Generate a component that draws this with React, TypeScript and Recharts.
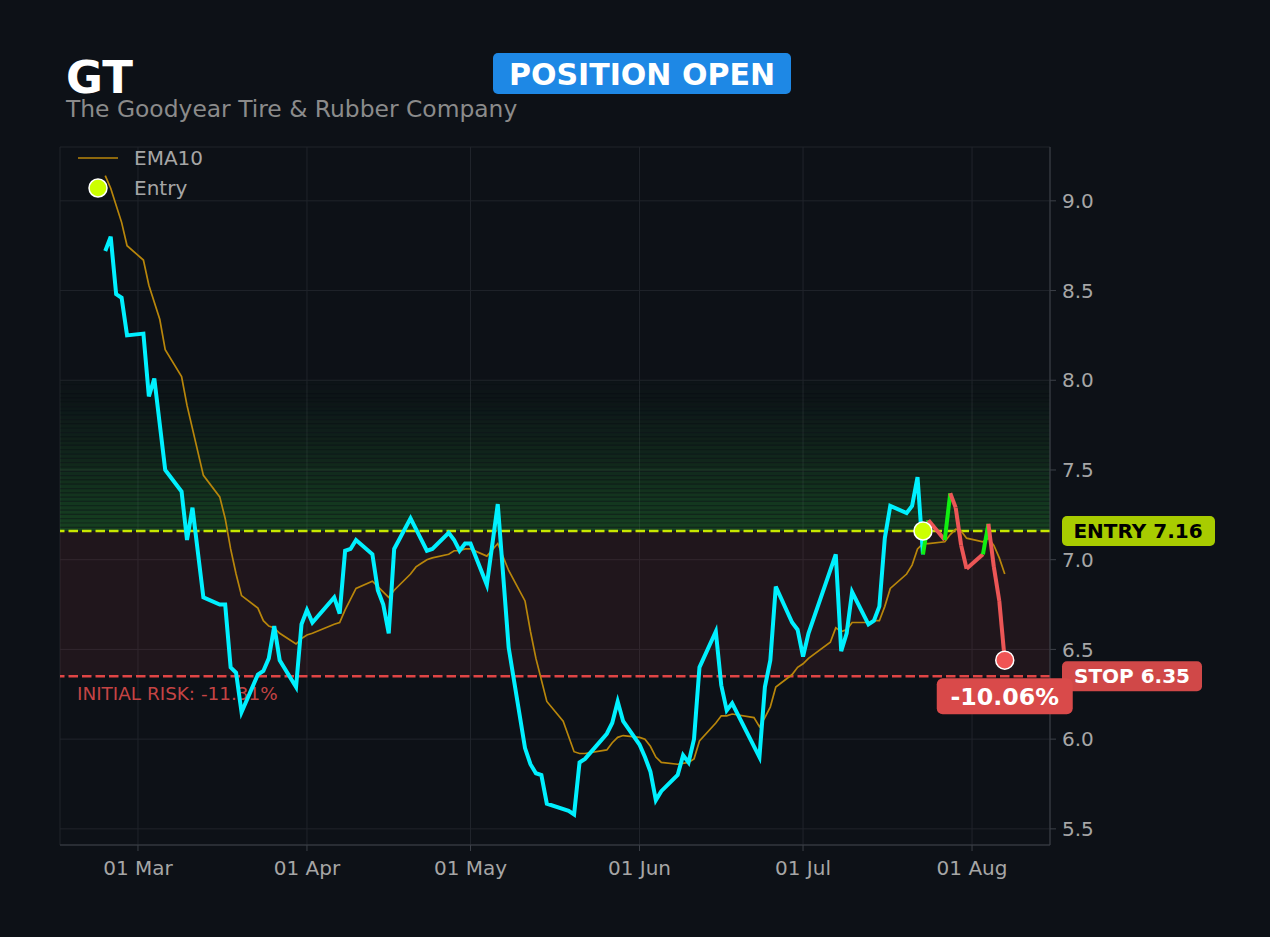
import {
  ComposedChart,
  Line,
  XAxis,
  YAxis,
  CartesianGrid,
  ReferenceArea,
  ReferenceLine,
  ReferenceDot,
} from "recharts"

// trading days shown on the chart
const dates = [
  "2026-02-23", "2026-02-24", "2026-02-25", "2026-02-26", "2026-02-27",
  "2026-03-02", "2026-03-03", "2026-03-04", "2026-03-05", "2026-03-06",
  "2026-03-09", "2026-03-10", "2026-03-11", "2026-03-12", "2026-03-13",
  "2026-03-16", "2026-03-17", "2026-03-18", "2026-03-19", "2026-03-20",
  "2026-03-23", "2026-03-24", "2026-03-25", "2026-03-26", "2026-03-27",
  "2026-03-30", "2026-03-31", "2026-04-01", "2026-04-02",
  "2026-04-06", "2026-04-07", "2026-04-08", "2026-04-09", "2026-04-10",
  "2026-04-13", "2026-04-14", "2026-04-15", "2026-04-16", "2026-04-17",
  "2026-04-20", "2026-04-21", "2026-04-22", "2026-04-23", "2026-04-24",
  "2026-04-27", "2026-04-28", "2026-04-29", "2026-04-30", "2026-05-01",
  "2026-05-04", "2026-05-05", "2026-05-06", "2026-05-07", "2026-05-08",
  "2026-05-11", "2026-05-12", "2026-05-13", "2026-05-14", "2026-05-15",
  "2026-05-18", "2026-05-19", "2026-05-20", "2026-05-21", "2026-05-22",
  "2026-05-26", "2026-05-27", "2026-05-28", "2026-05-29",
  "2026-06-01", "2026-06-02", "2026-06-03", "2026-06-04", "2026-06-05",
  "2026-06-08", "2026-06-09", "2026-06-10", "2026-06-11", "2026-06-12",
  "2026-06-15", "2026-06-16", "2026-06-17", "2026-06-18",
  "2026-06-22", "2026-06-23", "2026-06-24", "2026-06-25", "2026-06-26",
  "2026-06-29", "2026-06-30", "2026-07-01", "2026-07-02",
  "2026-07-06", "2026-07-07", "2026-07-08", "2026-07-09", "2026-07-10",
  "2026-07-13", "2026-07-14", "2026-07-15", "2026-07-16", "2026-07-17",
  "2026-07-20", "2026-07-21", "2026-07-22", "2026-07-23", "2026-07-24",
  "2026-07-27", "2026-07-28", "2026-07-29", "2026-07-30", "2026-07-31",
  "2026-08-03", "2026-08-04", "2026-08-05", "2026-08-06", "2026-08-07",
]

const closes = [
  8.72, 8.80, 8.48, 8.46, 8.25,
  8.26, 7.91, 8.01, null, 7.50,
  7.38, 7.11, 7.29, null, 6.79,
  6.75, 6.75, 6.40, 6.37, 6.15,
  6.36, 6.38, 6.45, 6.63, 6.44,
  6.29, 6.64, 6.72, 6.65,
  6.79, 6.70, 7.05, 7.06, 7.11,
  7.03, 6.83, 6.75, 6.59, 7.06,
  7.23, null, 7.11, 7.05, 7.06,
  7.15, 7.11, 7.05, 7.09, 7.09,
  6.86, null, 7.31, null, 6.51,
  5.95, 5.86, 5.81, 5.80, 5.64,
  null, 5.60, 5.58, 5.87, 5.89,
  6.03, 6.09, 6.21, 6.10,
  5.97, 5.90, 5.82, 5.66, 5.71,
  5.80, 5.91, 5.87, 6.00, 6.40,
  6.60, 6.30, 6.16, 6.20,
  null, 5.90, 6.29, 6.44, 6.85,
  6.65, 6.61, 6.46, 6.59,
  null, 7.03, 6.49, 6.59, 6.82,
  6.64, 6.66, 6.74, 7.12, 7.30,
  7.26, 7.30, 7.46, 7.03, 7.22,
  7.11, 7.37, 7.29, 7.08, 6.95,
  7.03, 7.20, 6.96, 6.77, 6.44,
]

const ema10 = [
  9.14, 9.07, null, 8.88, 8.75,
  8.67, 8.53, null, 8.34, 8.17,
  8.02, 7.86, null, null, 7.47,
  7.35, 7.23, 7.06, 6.92, 6.80,
  6.73, 6.66, 6.63, 6.62, 6.59,
  6.53, 6.56, 6.58, 6.59,
  6.64, 6.65, 6.72, 6.78, 6.84,
  6.88, 6.85, null, 6.79, 6.83,
  6.92, 6.96, 6.98, 7.00, 7.01,
  7.03, 7.05, 7.05, 7.06, 7.06,
  7.02, null, 7.09, null, 6.94,
  6.77, 6.60, 6.45, null, 6.21,
  6.10, null, 5.93, 5.92, 5.92,
  5.94, 5.98, 6.01, 6.02,
  6.01, 6.00, 5.96, 5.90, 5.87,
  5.86, null, 5.87, 5.89, 5.99,
  6.09, 6.13, 6.13, 6.14,
  6.12, 6.07, 6.12, 6.18, 6.29,
  6.36, 6.40, 6.42, 6.45,
  6.54, 6.62, 6.60, 6.61, 6.65,
  6.65, 6.66, 6.66, 6.74, 6.84,
  6.92, 6.97, 7.06, 7.09, 7.09,
  7.10, 7.14, 7.17, 7.16, 7.12,
  7.10, 7.12, 7.08, 7.01, 6.92,
]

// colour of each daily segment after the entry
const moves = ["up", "down", "up", "down", "down", "down", "down", "up", "down", "down", "down"]

const ticker = "GT"
const company = "The Goodyear Tire & Rubber Company"
const status = "POSITION OPEN"
const entryDate = "2026-07-23"
const entryPrice = 7.16
const stopPrice = 6.35
const zoneTop = 8.0

const yTicks = [5.5, 6.0, 6.5, 7.0, 7.5, 8.0, 8.5, 9.0]
const monthTicks = ["2026-03-01", "2026-04-01", "2026-05-01", "2026-06-01", "2026-07-01", "2026-08-01"]
const monthNames = ["Jan", "Feb", "Mar", "Apr", "May", "Jun", "Jul", "Aug", "Sep", "Oct", "Nov", "Dec"]
const xRange = ["2026-02-14T16:48:00Z", "2026-08-15T07:12:00Z"]

const BG = "#0d1117"
const CYAN = "#00f0ff"
const GREEN = "#11ee11"
const RED = "#ec5656"
const EMA = "#b8860b"
const LIME = "#c8e600"
const FONT = "DejaVu Sans, sans-serif"

const toTime = (d: string) => Date.parse(d.length > 10 ? d : d + "T00:00:00Z")
const entryIndex = dates.indexOf(entryDate)
const exitIndex = dates.length - 1
const exitPrice = closes[exitIndex] as number

const rows = dates.map((d, i) => {
  const row: Record<string, number | null> = {
    t: toTime(d),
    price: i <= entryIndex ? closes[i] : null,
    ema: ema10[i],
  }
  moves.forEach((_, k) => {
    const a = entryIndex + k
    row[`seg${k}`] = i === a || i === a + 1 ? closes[i] : null
  })
  return row
})

const pct = (v: number) => `${(((v - entryPrice) / entryPrice) * 100).toFixed(2)}%`

const stripeCount = 35
const stripeH = (zoneTop - entryPrice) / stripeCount
const fade = (i: number) => Math.pow((stripeCount - i) / stripeCount, 1.4)

const fmtTick = (t: number) => {
  const d = new Date(t)
  return `${String(d.getUTCDate()).padStart(2, "0")} ${monthNames[d.getUTCMonth()]}`
}

function EntryTag(props: any) {
  const vb = props.viewBox
  const x = vb.x + vb.width + 12
  const y = vb.y
  return (
    <g>
      <rect x={x} y={y - 15} width={153} height={30} rx={5} fill="#a8cc00" />
      <text x={x + 76} y={y + 7} textAnchor="middle" fontSize={20} fontWeight="bold" fill="#000" fontFamily={FONT}>
        ENTRY {entryPrice.toFixed(2)}
      </text>
    </g>
  )
}

function StopTag(props: any) {
  const vb = props.viewBox
  const x = vb.x + vb.width + 12
  const y = vb.y
  return (
    <g>
      <text x={vb.x + 17} y={y + 24} fontSize={18.4} fill="#c44444" fontFamily={FONT}>
        INITIAL RISK: {pct(stopPrice)}
      </text>
      <rect x={x} y={y - 15} width={140} height={30} rx={5} fill="#d04848" />
      <text x={x + 70} y={y + 7} textAnchor="middle" fontSize={20} fontWeight="bold" fill="#fff" fontFamily={FONT}>
        STOP {stopPrice.toFixed(2)}
      </text>
    </g>
  )
}

function ExitTag(props: any) {
  const vb = props.viewBox
  const cx = vb.x + vb.width / 2
  const cy = vb.y + vb.height / 2
  return (
    <g>
      <rect x={cx - 68} y={cy + 18} width={136} height={36} rx={6} fill="#d94a4a" />
      <text x={cx} y={cy + 45} textAnchor="middle" fontSize={23.7} fontWeight="bold" fill="#fff" fontFamily={FONT}>
        {pct(exitPrice)}
      </text>
    </g>
  )
}

export default function App() {
  return (
    <div style={{ position: "fixed", left: 0, top: 0, width: 1270, height: 937, background: BG, fontFamily: FONT }}>
      <ComposedChart
        width={1270}
        height={937}
        data={rows}
        margin={{ top: 147, right: 0, bottom: 0, left: 60 }}
      >
        <CartesianGrid stroke="#20242b" />
        <XAxis
          dataKey="t"
          type="number"
          domain={[toTime(xRange[0]), toTime(xRange[1])]}
          allowDataOverflow
          ticks={monthTicks.map(toTime)}
          tickFormatter={fmtTick}
          height={92}
          stroke="#3c4048"
          tickSize={6}
          tickMargin={10}
          tick={{ fill: "#a6a6a6", fontSize: 20 }}
        />
        <YAxis
          orientation="right"
          domain={[5.41, 9.3]}
          allowDataOverflow
          ticks={yTicks}
          tickFormatter={(v: number) => v.toFixed(1)}
          width={220}
          stroke="#3c4048"
          tickSize={6}
          tickMargin={6}
          tick={{ fill: "#a6a6a6", fontSize: 20, textAnchor: "start" }}
        />
        <ReferenceArea y1={stopPrice} y2={entryPrice} fill="#d04050" fillOpacity={0.1} stroke="none" />
        {Array.from({ length: stripeCount }, (_, i) => (
          <ReferenceArea
            key={`zb${i}`}
            y1={entryPrice + i * stripeH}
            y2={entryPrice + (i + 1) * stripeH}
            fill="#2db03a"
            fillOpacity={0.01 + 0.14 * fade(i)}
            stroke="none"
          />
        ))}
        {Array.from({ length: stripeCount }, (_, i) => (
          <ReferenceArea
            key={`zs${i}`}
            y1={entryPrice + i * stripeH}
            y2={entryPrice + (i + 0.72) * stripeH}
            fill="#2db03a"
            fillOpacity={0.01 + 0.17 * fade(i)}
            stroke="none"
          />
        ))}
        <ReferenceLine y={entryPrice} stroke={LIME} strokeWidth={2.5} strokeDasharray="9.5 4" label={EntryTag} />
        <ReferenceLine y={stopPrice} stroke="#e04545" strokeWidth={2.5} strokeDasharray="9.5 4" label={StopTag} />
        <Line dataKey="ema" stroke={EMA} strokeWidth={1.7} dot={false} connectNulls isAnimationActive={false} />
        <Line dataKey="price" stroke={CYAN} strokeWidth={4} dot={false} connectNulls isAnimationActive={false} />
        {moves.map((m, k) => (
          <Line
            key={`seg${k}`}
            dataKey={`seg${k}`}
            stroke={m === "up" ? GREEN : RED}
            strokeWidth={4}
            dot={false}
            isAnimationActive={false}
          />
        ))}
        <ReferenceDot x={toTime(entryDate)} y={entryPrice} r={9} fill="#ccff00" stroke="#fff" strokeWidth={1.5} />
        <ReferenceDot
          x={toTime(dates[exitIndex])}
          y={exitPrice}
          r={9}
          fill="#f05454"
          stroke="#fff"
          strokeWidth={1.5}
          label={ExitTag}
        />
      </ComposedChart>
      <svg width={1270} height={210} style={{ position: "absolute", left: 0, top: 0, pointerEvents: "none" }} fontFamily={FONT}>
        <text x={66} y={93} fontSize={45} fontWeight="bold" fill="#fff">{ticker}</text>
        <text x={66} y={117} fontSize={23.4} fill="#8b8b8b">{company}</text>
        <rect x={493} y={53} width={298} height={41} rx={5} fill="#1e88e5" />
        <text x={642} y={85} textAnchor="middle" fontSize={30} fontWeight="bold" fill="#fff">{status}</text>
        <line x1={78} y1={158} x2={118} y2={158} stroke={EMA} strokeWidth={1.7} />
        <text x={134} y={165} fontSize={20} fill="#a6a6a6">EMA10</text>
        <circle cx={98} cy={188} r={9} fill="#ccff00" stroke="#fff" strokeWidth={1.5} />
        <text x={134} y={195} fontSize={20} fill="#a6a6a6">Entry</text>
      </svg>
    </div>
  )
}
